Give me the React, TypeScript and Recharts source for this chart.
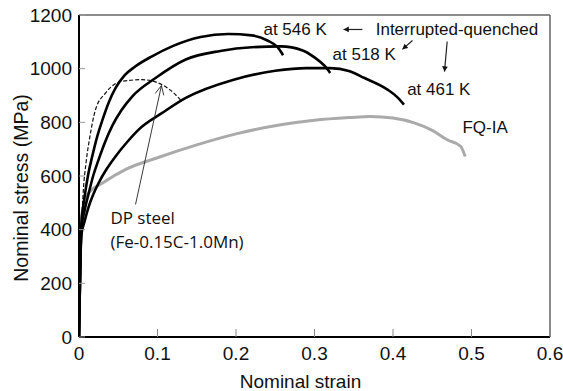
import { LineChart, Line, XAxis, YAxis, ReferenceLine, ReferenceDot } from 'recharts';

// curves (strain, MPa)
const strain546 = [0, 0.003, 0.005, 0.008, 0.012, 0.017, 0.023, 0.03, 0.038, 0.047, 0.058, 0.072, 0.093, 0.12, 0.155, 0.19, 0.22, 0.24, 0.253, 0.26];
const stress546 = [0, 420, 480, 540, 610, 675, 745, 810, 875, 930, 975, 1009, 1046, 1085, 1118, 1129, 1124, 1105, 1080, 1050];

const strain518 = [0, 0.003, 0.007, 0.0125, 0.018, 0.025, 0.033, 0.042, 0.054, 0.068, 0.0975, 0.136, 0.18, 0.22, 0.257, 0.285, 0.3, 0.313, 0.32];
const stress518 = [0, 400, 470, 537, 600, 661, 725, 785, 845, 897, 965, 1034, 1066, 1080, 1083, 1068, 1042, 1010, 984];

const strain461 = [0, 0.003, 0.007, 0.0125, 0.018, 0.025, 0.035, 0.0465, 0.06, 0.076, 0.106, 0.136, 0.197, 0.25, 0.29, 0.32, 0.345, 0.363, 0.393, 0.405, 0.414];
const stress461 = [0, 380, 430, 487, 530, 574, 625, 673, 722, 773, 835, 891, 959, 992, 1002, 1002, 990, 966, 922, 895, 866];

const strainFQ = [0, 0.003, 0.006, 0.0125, 0.03, 0.059, 0.1, 0.15, 0.2, 0.257, 0.3, 0.345, 0.371, 0.4, 0.427, 0.45, 0.469, 0.486, 0.492];
const stressFQ = [0, 440, 490, 537, 574, 624, 668, 716, 757, 791, 808, 818, 822, 816, 798, 770, 735, 711, 673];

const strainDP = [0, 0.003, 0.005, 0.009, 0.0135, 0.021, 0.034, 0.055, 0.0805, 0.106, 0.123, 0.131];
const stressDP = [0, 380, 520, 650, 740, 847, 910, 953, 959, 940, 903, 878];

const xTicks = [0, 0.1, 0.2, 0.3, 0.4, 0.5, 0.6];
const yTicks = [0, 200, 400, 600, 800, 1000, 1200];

const pts = (xs: number[], ys: number[]) => xs.map((x, i) => ({ x, y: ys[i] }));

const ARIAL = '"Liberation Sans", Arial, sans-serif';
const TXT = 17;

function textShape(label: string, font = ARIAL, size = TXT) {
  return (p: any) => (
    <text x={p.cx} y={p.cy} fontFamily={font} fontSize={size} fill="#111" dominantBaseline="central">
      {label}
    </text>
  );
}

// line with arrowhead at (x2,y2)
function arrowShape(open = false, head = 6) {
  return (p: any) => {
    const { x1, y1, x2, y2 } = p;
    const a = Math.atan2(y2 - y1, x2 - x1);
    const w = open ? 0.45 : 0.5;
    const ax = x2 - head * Math.cos(a - w);
    const ay = y2 - head * Math.sin(a - w);
    const bx = x2 - head * Math.cos(a + w);
    const by = y2 - head * Math.sin(a + w);
    return (
      <g>
        <line x1={x1} y1={y1} x2={x2} y2={y2} stroke="#222" strokeWidth={open ? 0.9 : 1.2} />
        {open ? (
          <polyline points={`${ax},${ay} ${x2},${y2} ${bx},${by}`} fill="none" stroke="#222" strokeWidth={0.9} />
        ) : (
          <polygon points={`${ax},${ay} ${x2},${y2} ${bx},${by}`} fill="#111" />
        )}
      </g>
    );
  };
}

const XTick = (p: any) => (
  <text x={p.x} y={p.y} textAnchor="middle" dy="0.71em" fontFamily={ARIAL} fontSize={19} fill="#111">
    {p.payload.value}
  </text>
);

const YTick = (p: any) => (
  <text x={p.x} y={p.y} textAnchor="end" dominantBaseline="central" fontFamily={ARIAL} fontSize={19} fill="#111">
    {p.payload.value}
  </text>
);

export default function App() {
  return (
    <div style={{ position: 'absolute', left: 0, top: 0, background: '#fff' }}>
      <LineChart width={563} height={391} margin={{ top: 15, right: 13, bottom: 0, left: 0 }}>
        <XAxis
          type="number"
          dataKey="x"
          domain={[0, 0.6]}
          ticks={xTicks}
          allowDataOverflow
          height={54}
          axisLine={{ stroke: '#000', strokeWidth: 2 }}
          tickLine={{ stroke: '#888' }}
          tickSize={-8}
          tickMargin={18}
          tick={XTick}
          label={{
            content: (p: any) => (
              <text
                x={p.viewBox.x + p.viewBox.width / 2 - 14}
                y={p.viewBox.y + 44}
                textAnchor="middle"
                dominantBaseline="central"
                fontFamily={ARIAL}
                fontSize={19}
                fill="#111"
              >
                Nominal strain
              </text>
            ),
          }}
        />
        <YAxis
          type="number"
          dataKey="y"
          domain={[0, 1200]}
          ticks={yTicks}
          allowDataOverflow
          width={79}
          axisLine={{ stroke: '#000', strokeWidth: 2 }}
          tickLine={{ stroke: '#999' }}
          tickSize={-6}
          tickMargin={13}
          tick={YTick}
          label={{
            content: (p: any) => {
              const cx = 21;
              const cy = p.viewBox.y + p.viewBox.height / 2 + 12;
              return (
                <text
                  x={cx}
                  y={cy}
                  transform={`rotate(-90 ${cx} ${cy})`}
                  textAnchor="middle"
                  dominantBaseline="central"
                  fontFamily={ARIAL}
                  fontSize={19.5}
                  fill="#111"
                >
                  Nominal stress (MPa)
                </text>
              );
            },
          }}
        />
        <ReferenceLine y={1200} stroke="#666" strokeWidth={1.5} />
        <ReferenceLine x={0.6} stroke="#666" strokeWidth={1.5} />

        <Line data={pts(strainFQ, stressFQ)} dataKey="y" type="monotone" stroke="#aaa" strokeWidth={3} dot={false} isAnimationActive={false} />
        <Line data={pts(strainDP, stressDP)} dataKey="y" type="monotone" stroke="#111" strokeWidth={1.2} strokeDasharray="4 2" dot={false} isAnimationActive={false} />
        <Line data={pts(strain461, stress461)} dataKey="y" type="monotone" stroke="#000" strokeWidth={2.6} dot={false} isAnimationActive={false} />
        <Line data={pts(strain518, stress518)} dataKey="y" type="monotone" stroke="#000" strokeWidth={2.6} dot={false} isAnimationActive={false} />
        <Line data={pts(strain546, stress546)} dataKey="y" type="monotone" stroke="#000" strokeWidth={2.6} dot={false} isAnimationActive={false} />

        <ReferenceDot x={0.235} y={1146} shape={textShape('at 546 K')} />
        <ReferenceDot x={0.378} y={1146} shape={textShape('Interrupted-quenched')} />
        <ReferenceDot x={0.323} y={1053} shape={textShape('at 518 K')} />
        <ReferenceDot x={0.418} y={922} shape={textShape('at 461 K')} />
        <ReferenceDot x={0.4885} y={781} shape={textShape('FQ-IA')} />
        <ReferenceDot x={0.04} y={445} shape={textShape('DP steel', '"Open Sans", sans-serif', 17)} />
        <ReferenceDot x={0.04} y={356} shape={textShape('(Fe-0.15C-1.0Mn)', '"Open Sans", sans-serif', 17)} />

        <ReferenceLine segment={[{ x: 0.361, y: 1146 }, { x: 0.337, y: 1146 }]} shape={arrowShape(false, 6)} />
        <ReferenceLine segment={[{ x: 0.4248, y: 1105 }, { x: 0.412, y: 1072 }]} shape={arrowShape(false, 6)} />
        <ReferenceLine segment={[{ x: 0.469, y: 1101 }, { x: 0.4656, y: 989 }]} shape={arrowShape(false, 6)} />
        <ReferenceLine segment={[{ x: 0.072, y: 494 }, { x: 0.105, y: 937 }]} shape={arrowShape(true, 10)} />
      </LineChart>
    </div>
  );
}
